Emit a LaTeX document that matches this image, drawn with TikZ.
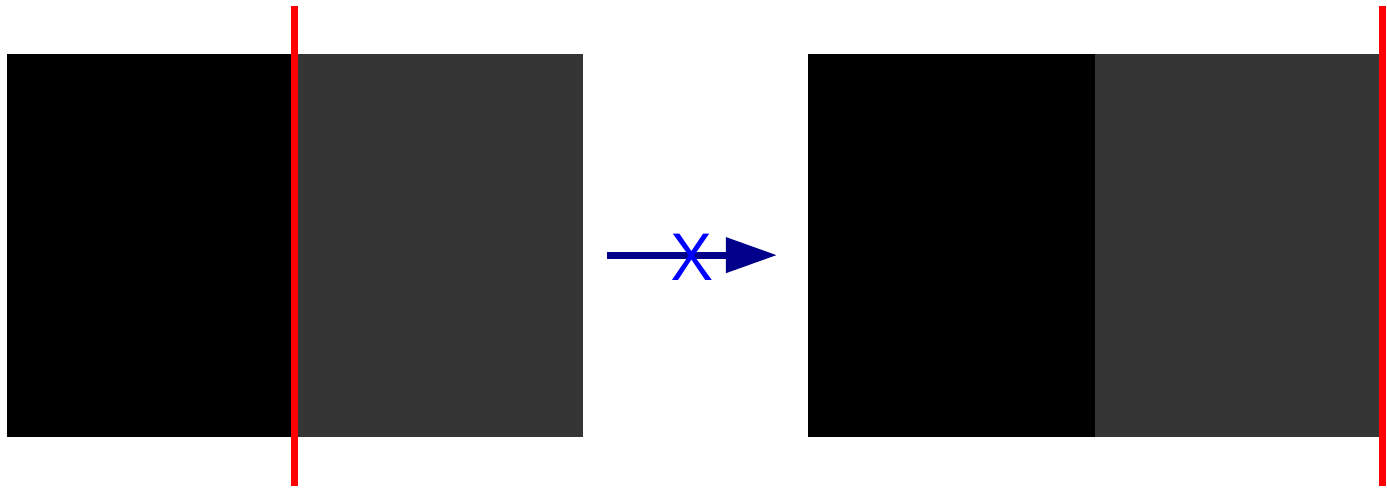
\documentclass[tikz,border=0pt]{standalone}
\usepackage{xcolor}
\usepackage{tikz}
\usetikzlibrary{arrows.meta, positioning}
\definecolor{darkpart}{RGB}{0,0,0}
\definecolor{lightpart}{RGB}{53,53,53}
\definecolor{cutline}{RGB}{255,0,0}
\definecolor{mapcol}{RGB}{0,0,139}
\definecolor{crosscol}{RGB}{0,0,255}

\begin{document}
\begin{tikzpicture}[
    x=0.01cm,y=-0.01cm,
    half/.style={draw=none,minimum width=2.87cm,minimum height=3.83cm,
      inner sep=0pt,outer sep=0pt},
    cut/.style={cutline,line width=0.07cm},
    arrow/.style={-{Triangle[length=0.51cm,width=0.34cm]},mapcol,line width=0.07cm},
  ]
  \useasboundingbox (0,0) rectangle (1387,487);

  % square before
  \node[half,fill=darkpart,anchor=north west] (lb) at (7,54) {};
  \node[half,fill=lightpart,minimum width=2.89cm,right=0pt of lb] (lg) {};
  \draw[cut] ([yshift=0.48cm]lb.north east) -- ([yshift=-0.49cm]lb.south east);

  % square after
  \node[half,fill=darkpart,anchor=north west] (rb) at (808,54) {};
  \node[half,fill=lightpart,right=0pt of rb] (rg) {};
  \draw[cut] ([yshift=0.48cm]rg.north east) -- ([yshift=-0.49cm]rg.south east);

  % crossed-out map
  \draw[arrow,shorten <=0.24cm,shorten >=0.31cm]
    ([yshift=-0.095cm]lg.east) -- ([yshift=-0.095cm]rb.west);
  \node[crosscol,inner sep=0pt,font=\sffamily\fontsize{19}{19}\selectfont]
    (cross) at (692,257) {X};
\end{tikzpicture}
\end{document}
